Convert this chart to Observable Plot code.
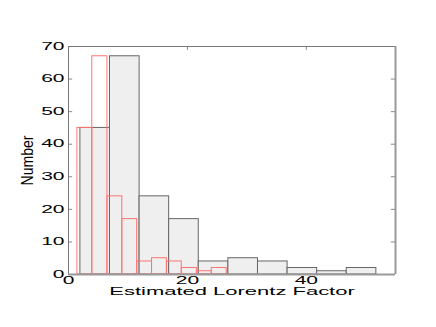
<!DOCTYPE html>
<html><head><meta charset="utf-8">
<script src="https://cdn.jsdelivr.net/npm/d3@7"></script>
<script src="https://cdn.jsdelivr.net/npm/@observablehq/plot@0.6"></script>
<style>body{margin:0;background:#fff}</style>
</head><body><div id="chart"></div>
<script>
const counts = [45, 67, 24, 17, 4, 5, 4, 2, 1, 2];
const grayEdges = [2.0, 6.98, 11.96, 16.93, 21.91, 26.89, 31.87, 36.85, 41.82, 46.8, 51.78];
const redEdges = [1.5, 4.0, 6.55, 9.05, 11.55, 14.05, 16.55, 19.05, 21.6, 24.1, 26.6];
const yTicks = [0, 10, 20, 30, 40, 50, 60, 70];
const xTicks = [0, 20, 40];
const xLabel = "Estimated Lorentz Factor";
const yLabel = "Number";

const gray = counts.map((c, i) => ({x1: grayEdges[i], x2: grayEdges[i + 1], y: c}));
const red = counts.map((c, i) => ({x1: redEdges[i], x2: redEdges[i + 1], y: c}));

const plot = Plot.plot({
  width: 436, height: 327,
  marginLeft: 68, marginRight: 41, marginTop: 46, marginBottom: 53,
  x: {domain: [0, 55], axis: null},
  y: {domain: [0, 70], axis: null},
  style: {fontFamily: "'Liberation Sans', Arial, sans-serif", background: "#fff", color: "#000"},
  marks: [
    Plot.ruleY(yTicks, {x1: 0, x2: 0.7, stroke: "#888"}),
    Plot.ruleY(yTicks, {x1: 54.3, x2: 55, stroke: "#888"}),
    Plot.ruleX(xTicks, {y1: 68.8, y2: 70, stroke: "#888"}),
    Plot.rect(gray, {x1: "x1", x2: "x2", y1: 0, y2: "y", fill: "#efefef", stroke: "#666", strokeWidth: 1}),
    Plot.rect(red, {x1: "x1", x2: "x2", y1: 0, y2: "y", fill: "none", stroke: "#ff7373", strokeWidth: 1}),
    Plot.ruleX([0], {stroke: "#777", strokeWidth: 1}),
    Plot.ruleY([70], {stroke: "#777", strokeWidth: 1}),
    Plot.ruleX([55], {stroke: "#999", strokeWidth: 2}),
    Plot.ruleY([0], {stroke: "#999", strokeWidth: 2}),
    Plot.axisY({ticks: yTicks, tickSize: 0, tickPadding: 4, fontSize: 10, label: null}),
    Plot.axisX({ticks: xTicks, tickSize: 0, tickPadding: 2.5, fontSize: 10, label: null}),
    Plot.text([yLabel], {frameAnchor: "left", rotate: -90, dx: -40.5, fontSize: 16, textAnchor: "middle"}),
    Plot.text([xLabel], {frameAnchor: "bottom", dy: 20, fontSize: 11})
  ]
});
document.getElementById("chart").appendChild(plot);

// stretch text along its reading direction to mimic the reference's font
d3.select(plot).selectAll("text").each(function() {
  const t = this.textContent.trim();
  let sx = 1;
  if (/^\d+$/.test(t)) sx = 2.1;
  else if (t === xLabel) sx = 2.0;
  else if (t === yLabel) sx = 0.88;
  if (sx === 1) return;
  let tr = this.getAttribute("transform") || "";
  const x = this.getAttribute("x");
  if (x !== null && !isNaN(+x)) {
    tr = `translate(${x},0) ` + tr;
    this.removeAttribute("x");
  }
  this.setAttribute("transform", tr + ` scale(${sx},1)`);
});
</script>
</body></html>
